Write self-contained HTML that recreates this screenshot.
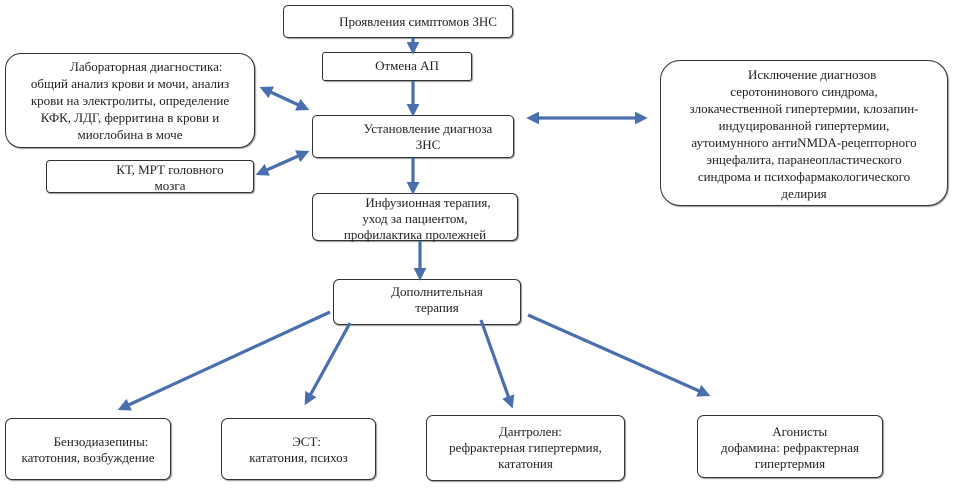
<!DOCTYPE html><html><head><meta charset="utf-8"><style>
body{margin:0;width:955px;height:489px;background:#fff;position:relative;overflow:hidden;font-family:"Liberation Serif","DejaVu Serif",serif;font-size:13px;color:#222}
.b{position:absolute;border:1.5px solid #333;box-sizing:border-box;background:#fff;text-align:center;line-height:16px;box-shadow:1px 1px 1px #999;white-space:nowrap}
svg{position:absolute;left:0;top:0}
</style></head><body>
<div class="b" style="left:283px;top:5px;width:230px;height:33px;border-radius:5px;padding:8px 0 0 40px">Проявления симптомов ЗНС</div>
<div class="b" style="left:322px;top:52px;width:150px;height:29px;border-radius:3px;padding:5px 0 0 20px">Отмена АП</div>
<div class="b" style="left:5px;top:53px;width:250px;height:95px;border-radius:16px;padding:4px 0 0 0;line-height:17px">&nbsp;&nbsp;&nbsp;&nbsp;&nbsp;&nbsp;&nbsp;&nbsp;&nbsp;&nbsp;Лабораторная диагностика:<br>общий анализ крови и мочи, анализ<br>крови на электролиты, определение<br>КФК, ЛДГ, ферритина в крови и<br>миоглобина в моче</div>
<div class="b" style="left:312px;top:115px;width:202px;height:43px;border-radius:5px;padding:5px 0 0 30px">Установление диагноза<br>ЗНС</div>
<div class="b" style="left:46px;top:160px;width:208px;height:33px;border-radius:4px;padding:1px 0 0 40px">КТ, МРТ головного<br>мозга</div>
<div class="b" style="left:312px;top:193px;width:206px;height:48px;border-radius:6px;padding:1px 0 0 0">&nbsp;&nbsp;&nbsp;&nbsp;&nbsp;&nbsp;&nbsp;&nbsp;Инфузионная терапия,<br>уход за пациентом,<br>профилактика пролежней</div>
<div class="b" style="left:660px;top:60px;width:288px;height:146px;border-radius:20px;padding:5px 0 0 0;line-height:17px">&nbsp;&nbsp;&nbsp;&nbsp;&nbsp;Исключение диагнозов<br>серотонинового синдрома,<br>злокачественной гипертермии, клозапин-<br>индуцированной гипертермии,<br>аутоимунного антиNMDA-рецепторного<br>энцефалита, паранеопластического<br>синдрома и психофармакологического<br>делирия</div>
<div class="b" style="left:333px;top:279px;width:188px;height:46px;border-radius:6px;padding:4px 0 0 20px">Дополнительная<br>терапия</div>
<div class="b" style="left:5px;top:418px;width:166px;height:62px;border-radius:7px;padding:15px 0 0 0">&nbsp;&nbsp;&nbsp;&nbsp;&nbsp;&nbsp;&nbsp;&nbsp;Бензодиазепины:<br>катотония, возбуждение</div>
<div class="b" style="left:221px;top:418px;width:155px;height:62px;border-radius:7px;padding:15px 0 0 0">&nbsp;&nbsp;&nbsp;&nbsp;&nbsp;ЭСТ:<br>кататония, психоз</div>
<div class="b" style="left:426px;top:415px;width:199px;height:66px;border-radius:7px;padding:8px 0 0 0">&nbsp;&nbsp;&nbsp;Дантролен:<br>рефрактерная гипертермия,<br>кататония</div>
<div class="b" style="left:697px;top:415px;width:186px;height:63px;border-radius:7px;padding:8px 0 0 0">&nbsp;&nbsp;&nbsp;&nbsp;&nbsp;&nbsp;Агонисты<br>дофамина: рефрактерная<br>гипертермия</div>
<svg width="955" height="489"><defs><marker id="a" markerWidth="4" markerHeight="4" refX="2.5" refY="2" orient="auto-start-reverse" markerUnits="strokeWidth"><path d="M0,0L4,2L0,4z" fill="#4a6fae"/></marker></defs>
<g stroke="#4a6fae" stroke-width="3.2" fill="none">
<line x1="413" y1="38" x2="413" y2="50" marker-end="url(#a)"/>
<line x1="413" y1="81" x2="413" y2="112" marker-end="url(#a)"/>
<line x1="413" y1="158" x2="413" y2="190" marker-end="url(#a)"/>
<line x1="420" y1="241" x2="420" y2="276" marker-end="url(#a)"/>
<line x1="264" y1="89" x2="305" y2="108" marker-start="url(#a)" marker-end="url(#a)"/>
<line x1="260" y1="173" x2="305" y2="153" marker-start="url(#a)" marker-end="url(#a)"/>
<line x1="531" y1="118" x2="643" y2="118" marker-start="url(#a)" marker-end="url(#a)"/>
<line x1="330" y1="312" x2="122" y2="408" marker-end="url(#a)"/>
<line x1="350" y1="323" x2="307" y2="401" marker-end="url(#a)"/>
<line x1="481" y1="320" x2="511" y2="404" marker-end="url(#a)"/>
<line x1="528" y1="315" x2="706" y2="394" marker-end="url(#a)"/>
</g></svg>
</body></html>
